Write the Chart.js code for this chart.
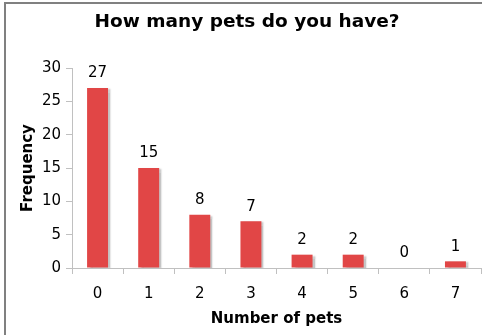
<!DOCTYPE html>
<html>
<head>
<meta charset="utf-8">
<script src="https://cdn.jsdelivr.net/npm/chart.js@4.4.1/dist/chart.umd.min.js"></script>
<style>
  html, body { margin: 0; padding: 0; background: #fff; }
  #wrap { position: relative; width: 482px; height: 335px; }
  #frame { position: absolute; left: 4px; top: 2px; right: -10px; bottom: -10px;
           border-top: 2px solid #808080; border-left: 2px solid #808080; pointer-events: none; }
  canvas { position: absolute; left: 0; top: 0; }
</style>
</head>
<body>
<div id="wrap">
  <canvas id="c" width="482" height="335"></canvas>
  <div id="frame"></div>
</div>
<script>
const categories = ['0', '1', '2', '3', '4', '5', '6', '7'];
const frequencies = [27, 15, 8, 7, 2, 2, 0, 1];
const yTicks = [0, 5, 10, 15, 20, 25, 30];

const FONT = "'DejaVu Sans', Verdana, sans-serif";

const shadowPlugin = {
  id: 'barShadow',
  beforeDatasetsDraw(chart) {
    const ctx = chart.ctx;
    ctx.save();
    ctx.shadowColor = 'rgba(140,140,140,0.5)';
    ctx.shadowOffsetX = 3;
    ctx.shadowOffsetY = 1;
    ctx.shadowBlur = 1.5;
  },
  afterDatasetsDraw(chart) {
    chart.ctx.restore();
  }
};

const labelPlugin = {
  id: 'valueLabels',
  afterDatasetsDraw(chart) {
    const ctx = chart.ctx;
    const meta = chart.getDatasetMeta(0);
    ctx.save();
    ctx.font = '15px ' + FONT;
    ctx.fillStyle = '#000';
    ctx.textAlign = 'center';
    ctx.textBaseline = 'bottom';
    meta.data.forEach((bar, i) => {
      ctx.fillText(String(frequencies[i]), bar.x, bar.y - 7);
    });
    ctx.restore();
  }
};

new Chart(document.getElementById('c'), {
  type: 'bar',
  data: {
    labels: categories,
    datasets: [{
      data: frequencies,
      backgroundColor: '#e14646',
      borderWidth: 0,
      barPercentage: 0.41,
      categoryPercentage: 1.0
    }]
  },
  options: {
    responsive: false,
    animation: false,
    devicePixelRatio: 1,
    layout: { padding: { left: 13, right: 1, top: 0, bottom: 0 } },
    plugins: {
      legend: { display: false },
      tooltip: { enabled: false },
      title: {
        display: true,
        text: 'How many pets do you have?',
        color: '#000',
        font: { family: FONT, size: 18.5, weight: 'bold' },
        padding: { top: 11, bottom: 34.8 }
      }
    },
    scales: {
      x: {
        grid: { drawOnChartArea: false, drawTicks: true, tickLength: 6, color: '#c0c0c0', offset: true },
        border: { color: '#c0c0c0', width: 1 },
        ticks: { color: '#000', font: { family: FONT, size: 15 }, padding: 11 },
        title: {
          display: true, text: 'Number of pets', color: '#000',
          font: { family: FONT, size: 15, weight: 'bold' },
          padding: { top: 2, bottom: 7 }
        },
        afterFit(scale) { scale.height = 67; }
      },
      y: {
        min: 0, max: 30,
        afterBuildTicks(scale) { scale.ticks = yTicks.map(v => ({ value: v })); },
        grid: { drawOnChartArea: false, drawTicks: true, tickLength: 6, color: '#c0c0c0' },
        border: { color: '#c0c0c0', width: 1 },
        ticks: { color: '#000', font: { family: FONT, size: 15 }, padding: 5 },
        title: {
          display: true, text: 'Frequency', color: '#000',
          font: { family: FONT, size: 15, weight: 'bold' },
          padding: { top: 6, bottom: 0 }
        },
        afterFit(scale) { scale.width = 59; }
      }
    }
  },
  plugins: [shadowPlugin, labelPlugin]
});
</script>
</body>
</html>
